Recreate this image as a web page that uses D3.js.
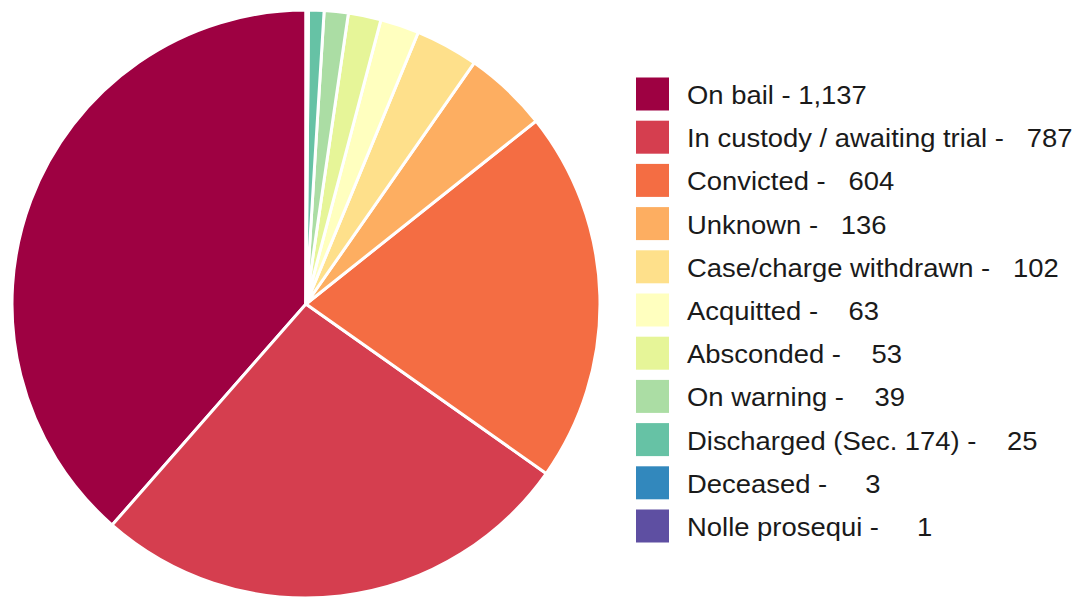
<!DOCTYPE html>
<html>
<head>
<meta charset="utf-8">
<script src="https://cdn.jsdelivr.net/npm/d3@7"></script>
<style>
  html, body { margin: 0; padding: 0; background: #ffffff; }
  svg { display: block; }
</style>
</head>
<body>
<svg id="chart" width="1080" height="599"></svg>
<script>
const categories = [
  "On bail", "In custody / awaiting trial", "Convicted", "Unknown",
  "Case/charge withdrawn", "Acquitted", "Absconded", "On warning",
  "Discharged (Sec. 174)", "Deceased", "Nolle prosequi"
];
const values = [1137, 787, 604, 136, 102, 63, 53, 39, 25, 3, 1];
const colors = ["#9e0142", "#d53e4f", "#f46d43", "#fdae61", "#fee08b", "#ffffbf",
                "#e6f598", "#abdda4", "#66c2a5", "#3288bd", "#5e4fa2"];

const data = categories.map((c, i) => ({ name: c, value: values[i], color: colors[i] }));

const svg = d3.select("#chart");
const cx = 306, cy = 304, r = 294;

const pie = d3.pie().value(d => d.value).sort(null)
  .startAngle(0).endAngle(-2 * Math.PI);
const arc = d3.arc().innerRadius(0).outerRadius(r);

svg.append("g").attr("transform", `translate(${cx},${cy})`)
  .selectAll("path").data(pie(data)).join("path")
  .attr("d", arc)
  .attr("fill", d => d.data.color)
  .attr("stroke", "#ffffff")
  .attr("stroke-width", 3)
  .attr("stroke-linejoin", "round");

const fmt = d3.format(",");
const pad = s => s.padStart(5, " ");

const legendY = d3.scalePoint().domain(categories).range([94, 526]);
const lg = svg.append("g");
const rows = lg.selectAll("g").data(data).join("g")
  .attr("transform", d => `translate(636,${legendY(d.name)})`);
rows.append("rect")
  .attr("x", 0).attr("y", -16.5).attr("width", 33).attr("height", 33)
  .attr("fill", d => d.color);
rows.append("text")
  .attr("transform", "translate(51,10) scale(1.035,1)")
  .attr("font-family", "Liberation Sans, Arial, sans-serif")
  .attr("font-size", 26.5)
  .attr("fill", "#1a1a1a")
  .style("white-space", "pre")
  .text(d => `${d.name} - ${pad(fmt(d.value))}`);
</script>
</body>
</html>
